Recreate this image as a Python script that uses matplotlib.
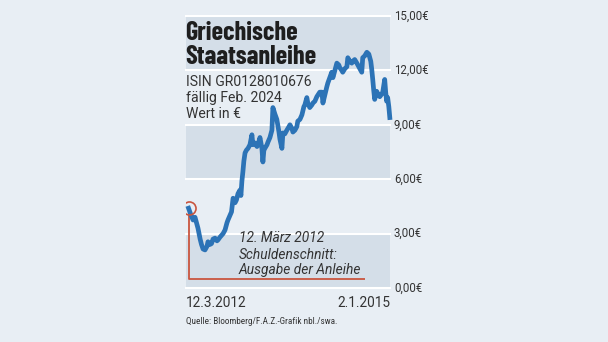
import matplotlib
matplotlib.use("Agg")
import matplotlib.pyplot as plt
import pandas as pd

# Tage seit Ausgabe (12.3.2012) und Kurs in Euro
start = pd.Timestamp("2012-03-12")
end = pd.Timestamp("2015-01-02")
days = [0, 13, 23, 33, 38, 48, 59, 66, 74, 84, 94, 99, 109, 117, 125, 135, 145, 150,
        160, 168, 176, 186, 196, 201, 211, 219, 227, 237, 244, 252, 262, 267, 272, 277,
        282, 288, 295, 303, 313, 323, 328, 338, 349, 359, 364, 374, 379, 384, 389, 400,
        405, 415, 425, 430, 440, 450, 461, 466, 476, 481, 491, 501, 512, 517, 527, 532,
        542, 552, 557, 568, 578, 588, 593, 603, 608, 618, 629, 634, 644, 654, 669, 680,
        685, 695, 705, 710, 720, 730, 736, 746, 756, 766, 771, 781, 786, 797, 807, 812,
        822, 832, 842, 847, 858, 863, 873, 883, 888, 898, 909, 919, 929, 934, 939, 944,
        949, 959, 970, 975, 985, 990, 1000, 1005, 1010, 1015, 1021, 1026]
kurs = [4.4, 4.0, 3.75, 3.9, 3.7, 3.3, 2.7, 2.4, 2.15, 2.1, 2.3, 2.55, 2.4, 2.45, 2.7,
        2.75, 2.6, 2.65, 2.8, 2.9, 3.0, 3.2, 3.6, 3.75, 4.0, 4.2, 4.95, 4.7, 4.85, 5.2,
        5.4, 5.1, 5.9, 6.4, 7.0, 7.45, 7.6, 7.7, 7.9, 8.45, 7.9, 8.0, 7.8, 8.1, 8.3, 7.7,
        6.95, 7.6, 7.7, 7.9, 8.05, 8.3, 8.7, 9.95, 9.6, 9.3, 8.6, 8.2, 7.7, 8.55, 8.5,
        8.7, 8.9, 9.0, 8.8, 8.6, 8.7, 8.9, 9.2, 9.3, 9.55, 10.0, 10.1, 10.5, 10.2, 9.95,
        10.1, 10.2, 10.3, 10.55, 10.8, 10.8, 10.2, 10.65, 11.1, 11.3, 11.6, 11.9, 11.6,
        12.0, 12.4, 12.3, 12.15, 12.0, 11.9, 12.1, 12.2, 12.7, 12.5, 12.4, 12.55, 12.6,
        12.4, 12.3, 12.1, 11.9, 12.7, 12.8, 13.0, 12.9, 12.5, 12.05, 11.5, 10.9, 10.4,
        10.85, 10.6, 10.55, 10.7, 10.8, 11.5, 10.8, 10.3, 10.5, 10.0, 9.4]
yticks = [0, 3, 6, 9, 12, 15]
ytick_labels = ["0,00€", "3,00€", "6,00€", "9,00€", "12,00€", "15,00€"]
ausgabe_tage = 898   # Ende der roten Linie

dates = start + pd.to_timedelta(days, unit="D")

W, H = 608, 342
bg = "#e8eef4"
band = "#d4dee8"
blau = "#2c73b6"
rot = "#c9553f"
schrift = "#333333"
cond = ["Roboto Condensed", "DejaVu Sans"]
rob = ["Roboto", "DejaVu Sans"]
titel_font = ["Barlow Condensed", "Roboto Condensed", "DejaVu Sans"]

fig = plt.figure(figsize=(W / 100, H / 100), dpi=100, facecolor=bg)

def px(x, y):
    return x / W, 1 - y / H

x0, x1, y0, y1 = 186, 390, 16, 288
ax = fig.add_axes([x0 / W, 1 - y1 / H, (x1 - x0) / W, (y1 - y0) / H])
ax.set_facecolor(bg)
for lo in (0, 6, 12):
    ax.axhspan(lo, lo + 3, color=band, lw=0, zorder=0)
for t in yticks:
    ax.axhline(t, color="white", lw=1.5, zorder=1, clip_on=False)

ax.set_ylim(0, 15)
ax.set_xlim(start - pd.Timedelta(days=13), end + pd.Timedelta(days=1))
for s in ax.spines.values():
    s.set_visible(False)
ax.set_xticks([])
ax.set_yticks([])

# Markierung Ausgabe
ax.plot([start, start, start + pd.Timedelta(days=ausgabe_tage)], [4.05, 0.5, 0.5],
        color=rot, lw=1.3, zorder=2, solid_capstyle="butt")
ax.plot(dates, kurs, color=blau, lw=3.4, zorder=3, solid_joinstyle="round",
        clip_on=False)
ax.plot([start], [kurs[0]], marker="o", ms=9.4, mfc="none", mec=rot, mew=1.2, zorder=4)

# Achsenbeschriftung rechts
for t, lab in zip(yticks, ytick_labels):
    yy = y1 - (y1 - y0) * t / 15
    fig.text(*px(394, yy), lab, ha="left", va="center", fontsize=8.3,
             family=rob, color=schrift)

fig.text(*px(186, 307), "12.3.2012", ha="left", va="baseline", fontsize=9.8,
         family=rob, color=schrift)
fig.text(*px(390, 307), "2.1.2015", ha="right", va="baseline", fontsize=9.8,
         family=rob, color=schrift)

# Titel
fig.text(*px(185, 40), "Griechische", ha="left", va="baseline", fontsize=19,
         family=titel_font, weight="bold", color="#1e1e1e")
fig.text(*px(185, 64), "Staatsanleihe", ha="left", va="baseline", fontsize=19,
         family=titel_font, weight="bold", color="#1e1e1e")
for yy, s in [(86, "ISIN GR0128010676"), (102, "fällig Feb. 2024"), (118, "Wert in €")]:
    fig.text(*px(186, yy), s, ha="left", va="baseline", fontsize=10.1,
             family=rob, color=schrift)

for yy, s in [(242, "12. März 2012"), (259, "Schuldenschnitt:"), (274, "Ausgabe der Anleihe")]:
    fig.text(*px(239, yy), s, ha="left", va="baseline", fontsize=9.9,
             family=rob, style="italic", color=schrift)

fig.text(*px(186, 324), "Quelle: Bloomberg/F.A.Z.-Grafik nbl./swa.", ha="left",
         va="baseline", fontsize=6.6, family=cond, color=schrift)

fig.savefig("out.png", dpi=100, facecolor=bg)
